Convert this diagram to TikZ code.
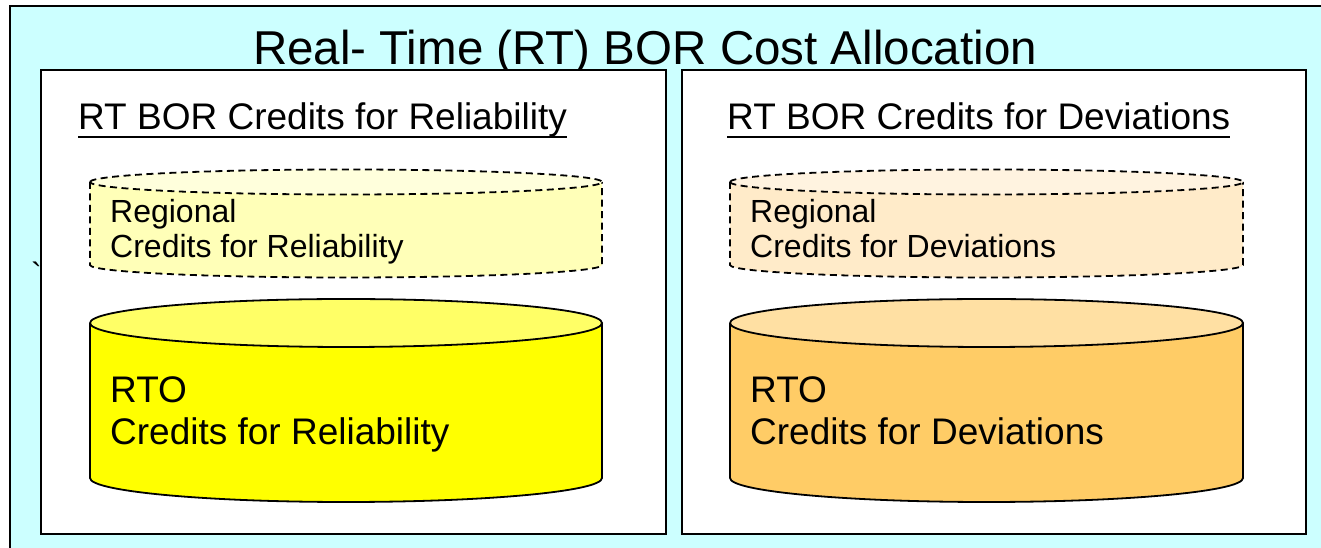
\documentclass[tikz,border=0pt]{standalone}
\usepackage{fontspec}
\setmainfont{Liberation Sans}
\newfontfamily\gravefont{Liberation Sans}[Ligatures=TeXOff]
\definecolor{sky}{HTML}{CCFFFF}
\definecolor{ylwbody}{HTML}{FFFF00}
\definecolor{ylwtop}{HTML}{FFFF66}
\definecolor{ylwpale}{HTML}{FFFFB8}
\definecolor{ylwpaletop}{HTML}{FFFFDC}
\definecolor{orbody}{HTML}{FFCC66}
\definecolor{ortop}{HTML}{FFE0A3}
\definecolor{orpale}{HTML}{FFEBC9}
\definecolor{orpaletop}{HTML}{FFF3E0}
\tikzset{
  panel/.style={draw=black, line width=2pt, fill=white},
  cylline/.style={draw=black, line width=1.8pt},
  ghostline/.style={draw=black, line width=1.8pt, dash pattern=on 7pt off 4.5pt},
  lbl/.style={anchor=base west, inner sep=0pt, text=black},
  titletext/.style={font=\fontsize{47.5}{57}\selectfont},
  headtext/.style={font=\fontsize{37}{44}\selectfont},
  smalltext/.style={font=\fontsize{32}{38}\selectfont},
  bigtext/.style={font=\fontsize{37}{44}\selectfont},
}
% cylinder: #1 = line style, #2 = body colour, #3 = top colour,
% #4 = left x, #5 = right x, #6 = top y, #7 = bottom y, #8 = y radius
\newcommand{\drumshape}[8]{%
  \pgfmathsetmacro{\drx}{(#5-#4)/2}%
  \path[fill=#2] (#4,#6) -- (#4,#7)
    arc[start angle=180, end angle=360, x radius=\drx pt, y radius=#8pt]
    -- (#5,#6) -- cycle;
  \draw[#1] (#4,#6) -- (#4,#7)
    arc[start angle=180, end angle=360, x radius=\drx pt, y radius=#8pt]
    -- (#5,#6);
  \draw[#1, fill=#3] (#4,#6)
    arc[start angle=180, end angle=-180, x radius=\drx pt, y radius=#8pt];
}
\begin{document}
\begin{tikzpicture}[x=1pt, y=1pt]
  \useasboundingbox (0,0) rectangle (1321,548);
  \clip (0,0) rectangle (1321,548);
  % outer frame
  \draw[line width=2.5pt, fill=sky] (10,542) rectangle (1340,-20);
  \node[titletext, anchor=base, inner sep=0pt] (title) at (645,483) {Real- Time (RT) BOR Cost Allocation};
  % two panels
  \draw[panel] (41,478) rectangle (666,14);
  \draw[panel] (682,478) rectangle (1306,14);
  % panel headings
  \node[lbl, headtext] (headL) at (78,418) {RT BOR Credits for Reliability};
  \node[lbl, headtext] (headR) at (727,418) {RT BOR Credits for Deviations};
  \draw[line width=2.4pt] ([yshift=-7pt]headL.base west) -- ([yshift=-7pt]headL.base east);
  \draw[line width=2.4pt] ([yshift=-7pt]headR.base west) -- ([yshift=-7pt]headR.base east);
  % stray mark
  \node[lbl, smalltext] (tick) at (31,262) {\gravefont\symbol{96}};
  % regional drums (dashed)
  \drumshape{ghostline}{ylwpale}{ylwpaletop}{90}{602}{366}{283}{12.5}
  \drumshape{ghostline}{orpale}{orpaletop}{730}{1243}{366}{283}{12.5}
  % RTO drums
  \drumshape{cylline}{ylwbody}{ylwtop}{90}{602}{225}{70}{24}
  \drumshape{cylline}{orbody}{ortop}{730}{1243}{225}{70}{24}
  % drum labels
  \node[lbl, smalltext] (regL1) at (110,325.5) {Regional};
  \node[lbl, smalltext] (regL2) at (110,290) {Credits for Reliability};
  \node[lbl, smalltext] (regR1) at (750,325.5) {Regional};
  \node[lbl, smalltext] (regR2) at (750,290) {Credits for Deviations};
  \node[lbl, bigtext] (rtoL1) at (110,145) {RTO};
  \node[lbl, bigtext] (rtoL2) at (110,103) {Credits for Reliability};
  \node[lbl, bigtext] (rtoR1) at (750,145) {RTO};
  \node[lbl, bigtext] (rtoR2) at (750,103) {Credits for Deviations};
\end{tikzpicture}
\end{document}
